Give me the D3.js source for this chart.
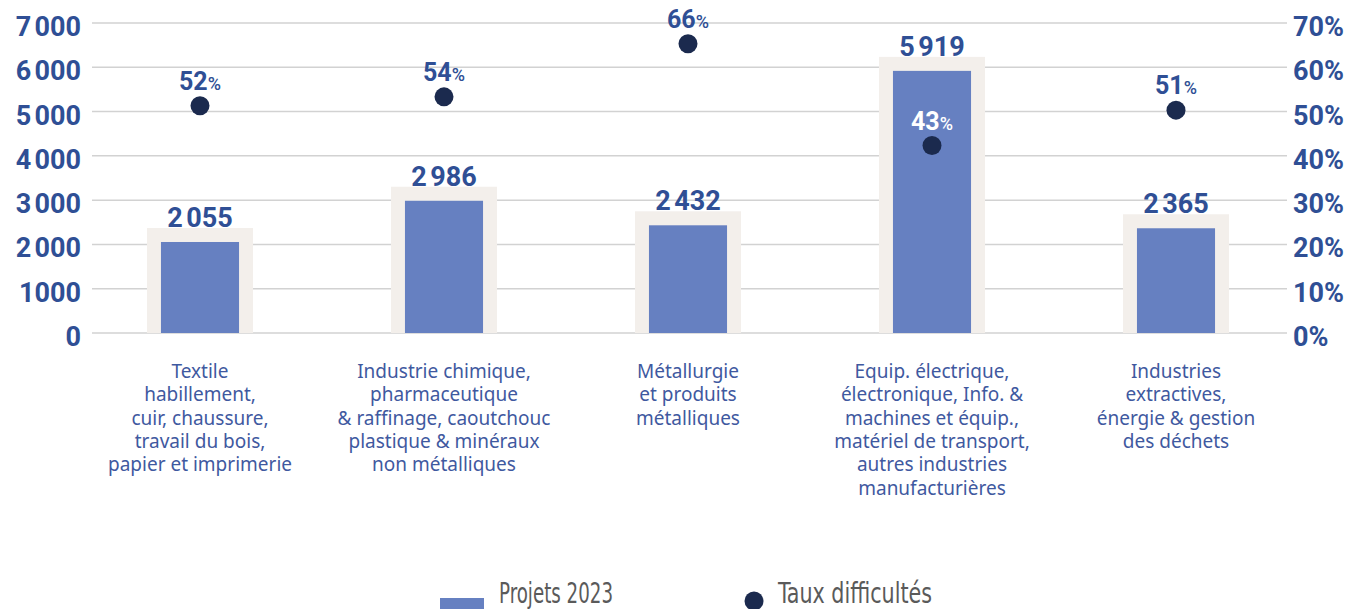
<!DOCTYPE html>
<html lang="fr">
<head>
<meta charset="utf-8">
<title>Projets 2023 et taux de difficultés</title>
<script src="https://cdn.jsdelivr.net/npm/d3@7"></script>
<style>
  body { margin: 0; padding: 0; background: #fff; }
  svg { display: block; }
  .axis-label { font-family: Roboto, 'Open Sans', sans-serif; font-weight: 700; font-size: 27px; fill: #2f4f95; }
  .cat-label { font-family: 'Noto Sans', 'Open Sans', sans-serif; font-size: 19px; fill: #3f59a0; }
  .legend-label { font-family: 'Liberation Sans Narrow', 'DejaVu Sans Condensed', sans-serif; font-size: 28px; fill: #5a5a5a; }
</style>
</head>
<body>
<div id="chart"></div>
<script>
// Données
var categories = [
  ["Textile", "habillement,", "cuir, chaussure,", "travail du bois,", "papier et imprimerie"],
  ["Industrie chimique,", "pharmaceutique", "& raffinage, caoutchouc", "plastique & minéraux", "non métalliques"],
  ["Métallurgie", "et produits", "métalliques"],
  ["Equip. électrique,", "électronique, Info. &", "machines et équip.,", "matériel de transport,", "autres industries", "manufacturières"],
  ["Industries", "extractives,", "énergie & gestion", "des déchets"]
];
var projets = [2055, 2986, 2432, 5919, 2365];
var tauxDifficultes = [52, 54, 66, 43, 51];
var leftTicks = [0, 1000, 2000, 3000, 4000, 5000, 6000, 7000];
var leftTickLabels = ["0", "1000", "2\u202F000", "3\u202F000", "4\u202F000", "5\u202F000", "6\u202F000", "7\u202F000"];
var rightTicks = [0, 10, 20, 30, 40, 50, 60, 70];
var legendLabels = ["Projets 2023", "Taux difficultés"];

var W = 1355, H = 609;
var plotTop = 23, plotBottom = 333;

var svg = d3.select("#chart").append("svg")
  .attr("width", W).attr("height", H);

var x = d3.scaleBand()
  .domain(d3.range(projets.length))
  .range([78, 1298])
  .paddingInner(0.68).paddingOuter(0.34);

var yL = d3.scaleLinear().domain([0, 7000]).range([plotBottom, plotTop]);
var yR = d3.scaleLinear().domain([0, 70]).range([plotBottom, plotTop]);

var fmt = function(v) { return d3.format(",")(v).replace(",", "\u202F"); };

// grille
svg.append("g").selectAll("line")
  .data(leftTicks).enter().append("line")
  .attr("x1", 92).attr("x2", 1287)
  .attr("y1", function(d) { return yL(d); })
  .attr("y2", function(d) { return yL(d); })
  .attr("stroke", "#d2d2d2").attr("stroke-width", 1.5);

// axe gauche
svg.append("g").selectAll("text")
  .data(leftTicks).enter().append("text")
  .attr("class", "axis-label")
  .attr("x", 81)
  .attr("y", function(d) { return yL(d) + 13; })
  .attr("text-anchor", "end")
  .text(function(d, i) { return leftTickLabels[i]; });

// axe droit
svg.append("g").selectAll("text")
  .data(rightTicks).enter().append("text")
  .attr("class", "axis-label")
  .attr("x", 1293)
  .attr("y", function(d) { return yR(d) + 13; })
  .text(function(d) { return d + "%"; });

var bw = x.bandwidth();
var pad = 14;

// fond des barres
svg.append("g").selectAll("rect")
  .data(projets).enter().append("rect")
  .attr("x", function(d, i) { return x(i) - pad; })
  .attr("y", function(d) { return yL(d) - pad; })
  .attr("width", bw + 2 * pad)
  .attr("height", function(d) { return plotBottom - yL(d) + pad; })
  .attr("fill", "#f3efeb");

// barres
svg.append("g").selectAll("rect")
  .data(projets).enter().append("rect")
  .attr("x", function(d, i) { return x(i); })
  .attr("y", function(d) { return yL(d); })
  .attr("width", bw)
  .attr("height", function(d) { return plotBottom - yL(d); })
  .attr("fill", "#6680c1");

// valeurs des barres
svg.append("g").selectAll("text")
  .data(projets).enter().append("text")
  .attr("class", "axis-label")
  .attr("x", function(d, i) { return x(i) + bw / 2; })
  .attr("y", function(d) { return yL(d) - pad - 1; })
  .attr("text-anchor", "middle")
  .text(function(d) { return fmt(d); });

// points
svg.append("g").selectAll("circle")
  .data(tauxDifficultes).enter().append("circle")
  .attr("cx", function(d, i) { return x(i) + bw / 2; })
  .attr("cy", function(d) { return yR(d) + 3; })
  .attr("r", 9.5)
  .attr("fill", "#1b2a4e");

var pl = svg.append("g").selectAll("text")
  .data(tauxDifficultes).enter().append("text")
  .attr("class", "axis-label")
  .attr("x", function(d, i) { return x(i) + bw / 2; })
  .attr("y", function(d) { return yR(d) - 13; })
  .attr("text-anchor", "middle")
  .style("fill", function(d, i) { return yR(d) > yL(projets[i]) ? "#ffffff" : "#2f4f95"; })
  .style("font-size", "25px");
pl.append("tspan").text(function(d) { return d; });
pl.append("tspan").style("font-size", "18px").style("font-weight", "500").text("%");

// libellés des catégories
var cl = svg.append("g").selectAll("text")
  .data(categories).enter().append("text")
  .attr("class", "cat-label")
  .attr("text-anchor", "middle")
  .attr("x", function(d, i) { return x(i) + bw / 2; })
  .attr("y", 378);
cl.selectAll("tspan")
  .data(function(d, i) { return d.map(function(s) { return { s: s, i: i }; }); })
  .enter().append("tspan")
  .attr("x", function(d) { return x(d.i) + bw / 2; })
  .attr("dy", function(d, j) { return j === 0 ? 0 : 23.3; })
  .text(function(d) { return d.s; });

// légende
var lg = svg.append("g");
lg.append("rect").attr("x", 440).attr("y", 598).attr("width", 44).attr("height", 14).attr("fill", "#6680c1");
lg.append("text").attr("class", "legend-label").attr("x", 499).attr("y", 603)
  .attr("textLength", 114).attr("lengthAdjust", "spacingAndGlyphs").text(legendLabels[0]);
lg.append("circle").attr("cx", 754).attr("cy", 601).attr("r", 9.5).attr("fill", "#1b2a4e");
lg.append("text").attr("class", "legend-label").attr("x", 778).attr("y", 603)
  .attr("textLength", 154).attr("lengthAdjust", "spacingAndGlyphs").text(legendLabels[1]);
</script>
</body>
</html>
